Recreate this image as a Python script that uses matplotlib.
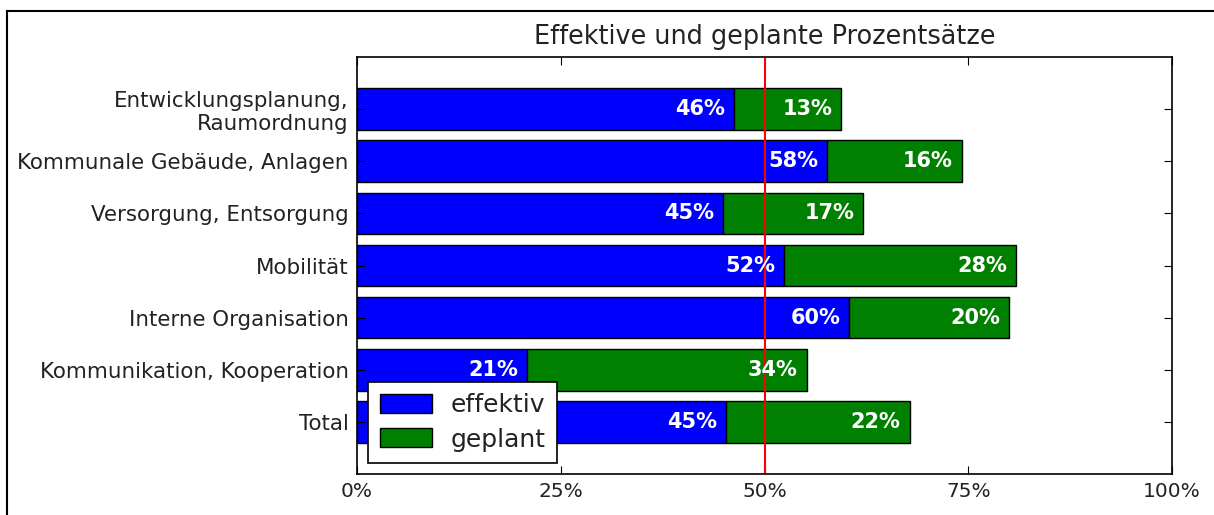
import matplotlib
matplotlib.use("Agg")
import matplotlib.pyplot as plt
from matplotlib.lines import Line2D

CATEGORIES = ["Entwicklungsplanung,\nRaumordnung", "Kommunale Gebäude, Anlagen",
              "Versorgung, Entsorgung", "Mobilität", "Interne Organisation",
              "Kommunikation, Kooperation", "Total"]
EFFEKTIV = [46.2, 57.7, 44.9, 52.4, 60.4, 20.9, 45.3]
GEPLANT = [13.2, 16.5, 17.2, 28.5, 19.6, 34.3, 22.5]
XTICKS = [0, 25, 50, 75, 100]

TXT = "#222222"
plt.rcParams["font.family"] = "DejaVu Sans"
fig = plt.figure(figsize=(12.14, 5.15), dpi=100)
ax = fig.add_axes([357 / 1214, 1 - 474 / 515, (1172 - 357) / 1214, (474 - 57) / 515])

ys = list(range(len(CATEGORIES)))[::-1]
ax.barh(ys, EFFEKTIV, height=0.8, color="#0000ff", edgecolor="black", lw=1, label="effektiv")
ax.barh(ys, GEPLANT, left=EFFEKTIV, height=0.8, color="#008000", edgecolor="black", lw=1, label="geplant")

for y, e, g in zip(ys, EFFEKTIV, GEPLANT):
    ax.text(e - 1.1, y, f"{round(e)}%", ha="right", va="center", color="white",
            fontweight="bold", fontsize=15)
    ax.text(e + g - 1.1, y, f"{round(g)}%", ha="right", va="center", color="white",
            fontweight="bold", fontsize=15)

ax.axvline(50, color="red", lw=1.5)
ax.set_xlim(0, 100)
ax.set_ylim(-1, len(CATEGORIES))
ax.set_xticks(XTICKS, labels=[f"{t}%" for t in XTICKS], fontsize=14.5, color=TXT)
ax.set_yticks(ys, labels=CATEGORIES, fontsize=15.4, color=TXT)
ax.tick_params(direction="in", top=True, right=True, length=6, pad=6)
for s in ax.spines.values():
    s.set_linewidth(1.2)
ax.set_title("Effektive und geplante Prozentsätze", fontsize=18.4, pad=9, color=TXT)

leg = ax.legend(loc="lower left", fontsize=18, fancybox=False, framealpha=1,
                edgecolor="black", borderaxespad=0.45, handlelength=2.1,
                handleheight=0.78, handletextpad=0.75, borderpad=0.45, labelspacing=0.4)
leg.get_frame().set_linewidth(1.2)
for t in leg.get_texts():
    t.set_color(TXT)

# screenshot frame lines (top and left)
fig.add_artist(Line2D([7 / 1214, 1], [1 - 11 / 515, 1 - 11 / 515], color="black", lw=1.5))
fig.add_artist(Line2D([7 / 1214, 7 / 1214], [0, 1 - 11 / 515], color="black", lw=1.5))

fig.savefig("out.png", dpi=100)
